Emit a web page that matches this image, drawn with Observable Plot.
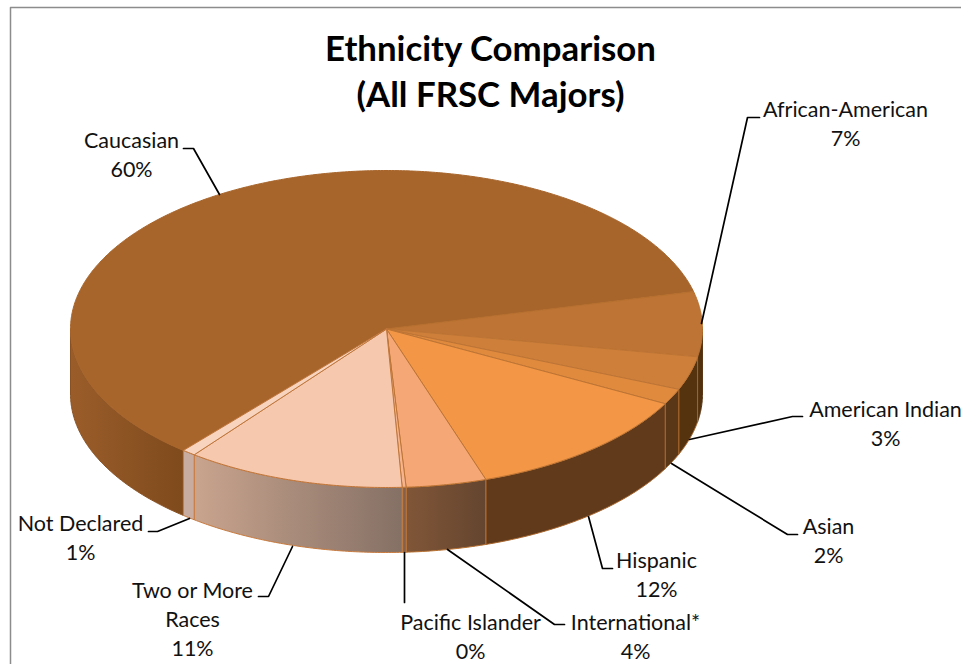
<!DOCTYPE html>
<html>
<head>
<meta charset="utf-8">
<title>Ethnicity Comparison</title>
<style>
html,body{margin:0;padding:0;background:#fff;overflow:hidden;width:961px;height:664px}
svg{display:block;overflow:hidden}
</style>
<script src="https://cdn.jsdelivr.net/npm/d3@7"></script>
<script src="https://cdn.jsdelivr.net/npm/@observablehq/plot@0.6"></script>
</head>
<body>
<div id="chart"></div>
<script>
const categories = ["Caucasian","African-American","American Indian","Asian","Hispanic","International*","Pacific Islander","Two or More\nRaces","Not Declared"];
const values = [60.1,6.6,3.4,1.6,12.1,4.1,0.2,11.2,0.7];
const topColors = ["#A8652B","#BD7434","#CE803A","#E08A3E","#F39645","#F5A876","#F6B48E","#F6C8AE","#F8D3BE"];
const edgeColors = ["#A8652B","#B8702F","#BD7434","#BD7434","#BD7434","#BD7434","#BD7434","#C0763A","#C0763A"];
const sideStart = ["#9A5D2A","#54330F","#55330F","#5A3717","#613A1B","#815638","#857065","#C9A48E","#C8AC9F"];
const sideEnd = ["#7F4A1C","#4F2F0E","#55330F","#5A3717","#613A1B","#64452F","#815638","#857065","#C8AC9F"];
const sideEdge = ["#8A5223","#5A3717","#A8652B","#A8652B","#A8652B","#B8702F","#C0763A","#C97B3E","#C97B3E"];
const labelX = [131,845,885,828,656,635,470,192,80];
const labelY = [152.5,121.5,421.5,538.5,572.5,634.5,634.5,617,535.5];
const leaders = [
  [[183,148],[193,148],[219,194]],
  [[759,117],[747,117],[701,323]],
  [[802,416],[792,416],[689,439]],
  [[671,463],[787,534],[797,534]],
  [[588,516],[602,568],[612,568]],
  [[447,549],[554,624],[564,624]],
  [[404,552],[404,602]],
  [[292,546],[268,596],[258,596]],
  [[189,518],[157,531],[148,531]]
];
const titleLines = "Ethnicity Comparison\n(All FRSC Majors)";

const pie = {cx:386, cy:328.5, rx:316, ry:158.5, depth:65, start:130};
const pt = (deg, dy=0) => {
  const t = deg*Math.PI/180;
  return {x: pie.cx + pie.rx*Math.cos(t), y: pie.cy + pie.ry*Math.sin(t) + dy};
};
const arc = (a,b,dy=0) => {
  const n = Math.max(2, Math.ceil(Math.abs(b-a)/0.5));
  return d3.range(n+1).map(i => pt(a+(b-a)*i/n, dy));
};
const total = d3.sum(values);
let cursor = pie.start;
const slices = values.map((v,i) => {
  const a = cursor, b = cursor + v/total*360;
  cursor = b;
  return {i,a,b};
});
const tops = slices.map(s => {
  const c = {x:pie.cx,y:pie.cy};
  return [c, ...arc(s.a,s.b), c];
});
const sides = [];
slices.forEach(s => {
  [[0,180],[360,540]].forEach(([lo,hi]) => {
    const a = Math.max(s.a,lo), b = Math.min(s.b,hi);
    if (b > a) {
      const up = arc(a,b), down = arc(b,a,pie.depth);
      sides.push({i:s.i, pts:[...up,...down,up[0]]});
    }
  });
});

const gradients = () => {
  const svgNS = "http://www.w3.org/2000/svg";
  const defs = document.createElementNS(svgNS,"defs");
  values.forEach((_,i) => {
    const g = document.createElementNS(svgNS,"linearGradient");
    g.setAttribute("id","side"+i);
    [[0,sideStart[i]],[1,sideEnd[i]]].forEach(([o,c]) => {
      const st = document.createElementNS(svgNS,"stop");
      st.setAttribute("offset",o);
      st.setAttribute("stop-color",c);
      g.appendChild(st);
    });
    defs.appendChild(g);
  });
  return defs;
};

const font = "Lato, Carlito, Calibri, sans-serif";
const chart = Plot.plot({
  width:961, height:664,
  margin:0,
  style:{background:"#fff", fontFamily:font},
  x:{domain:[0,961], range:[0,961], axis:null},
  y:{domain:[0,664], range:[0,664], axis:null},
  marks:[
    gradients,
    Plot.line([{x:10,y:664},{x:10,y:7},{x:961,y:7}],{x:"x",y:"y",stroke:"#8C8C8C",strokeWidth:1.5}),
    ...sides.map(s => Plot.line(s.pts,{x:"x",y:"y",fill:`url(#side${s.i})`,stroke:sideEdge[s.i],strokeWidth:1})),
    ...tops.map((p,i) => Plot.line(p,{x:"x",y:"y",fill:topColors[i],stroke:edgeColors[i],strokeWidth:1})),
    ...leaders.map(l => Plot.line(l,{x:d=>d[0],y:d=>d[1],stroke:"#000",strokeWidth:1.7})),
    Plot.text(categories.map((c,i)=>({t:`${c}\n${Math.round(values[i])}%`,x:labelX[i],y:labelY[i]})),{
      x:"x",y:"y",text:"t",fontSize:21.5,lineHeight:1.35,fill:"#111",textAnchor:"middle",lineAnchor:"middle",fontFamily:font
    }),
    Plot.text([{t:titleLines,x:490,y:68.5}],{
      x:"x",y:"y",text:"t",fontSize:34.8,fontWeight:700,lineHeight:1.32,fill:"#000",textAnchor:"middle",lineAnchor:"middle",fontFamily:font
    })
  ]
});
document.getElementById("chart").appendChild(chart);
</script>
</body>
</html>
